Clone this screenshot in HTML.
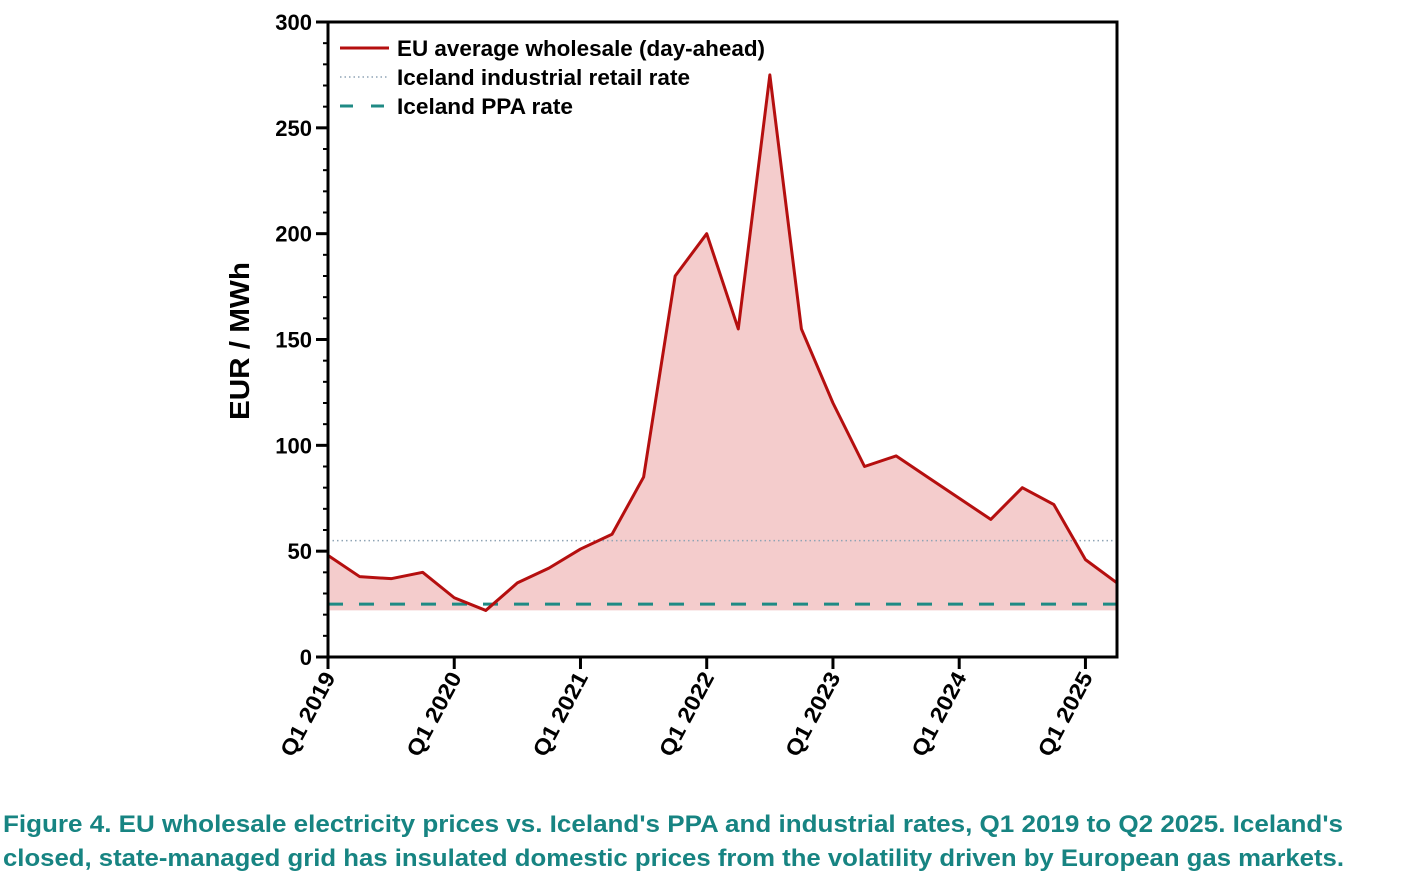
<!DOCTYPE html>
<html><head><meta charset="utf-8"><style>
body{margin:0;background:#fff;font-family:"Liberation Sans",Arial,sans-serif}
svg text{font-family:"Liberation Sans",Arial,sans-serif;font-weight:bold}
</style></head><body>
<svg id="c" width="1426" height="884" viewBox="0 0 1426 884"></svg>
<script>
const quarters=["Q1 2019","Q2 2019","Q3 2019","Q4 2019","Q1 2020","Q2 2020","Q3 2020","Q4 2020","Q1 2021","Q2 2021","Q3 2021","Q4 2021","Q1 2022","Q2 2022","Q3 2022","Q4 2022","Q1 2023","Q2 2023","Q3 2023","Q4 2023","Q1 2024","Q2 2024","Q3 2024","Q4 2024","Q1 2025","Q2 2025"];
const euPrices=[48,38,37,40,28,22,35,42,51,58,85,180,200,155,275,155,120,90,95,85,75,65,80,72,46,35];
const retailRate=[55];
const ppaRate=[25];
const yTicks=[0,50,100,150,200,250,300];
const xTickLabels=["Q1 2019","Q1 2020","Q1 2021","Q1 2022","Q1 2023","Q1 2024","Q1 2025"];

const NS="http://www.w3.org/2000/svg";
const svg=document.getElementById('c');
const X0=328,X1=1117,Y0=657,Y1=22;
const xs=i=>X0+(X1-X0)*i/(quarters.length-1);
const ys=v=>Y0-(Y0-Y1)*v/300;
function mk(t,a,p){const e=document.createElementNS(NS,t);for(const k in a)e.setAttribute(k,a[k]);(p||svg).appendChild(e);return e;}

const base=Math.min(ppaRate[0],Math.min(...euPrices));
let d=`M${xs(0)},${ys(base)} `+euPrices.map((v,i)=>`L${xs(i)},${ys(v)}`).join(' ')+` L${xs(euPrices.length-1)},${ys(base)} Z`;
const fill=mk('path',{d,fill:'#f4cccc',stroke:'none'});



const r=mk('line',{x1:X0,x2:X1,y1:ys(retailRate[0]),y2:ys(retailRate[0]),stroke:'#8fa4b5','stroke-width':1.5,'stroke-dasharray':'1.5 3'});


const p=mk('line',{x1:X0,x2:X1,y1:ys(ppaRate[0]),y2:ys(ppaRate[0]),stroke:'#1f8a84','stroke-width':3,'stroke-dasharray':'15 16'});



const ln=mk('polyline',{points:euPrices.map((v,i)=>`${xs(i)},${ys(v)}`).join(' '),fill:'none',stroke:'#b50f0f','stroke-width':3,'stroke-linejoin':'round'});



const fr=mk('rect',{x:X0,y:Y1,width:X1-X0,height:Y0-Y1,fill:'none',stroke:'#000','stroke-width':3});



for(let v=0;v<=300;v+=10){
  const major=v%50===0;
  const t=mk('line',{x1:X0-(major?12:5),x2:X0,y1:ys(v),y2:ys(v),stroke:'#000','stroke-width':major?3:2});
  
  
}
yTicks.forEach(v=>{
  const t=mk('text',{x:X0-16,y:ys(v)+8,'text-anchor':'end','font-size':22});
  t.textContent=v;
  
  
});
const yt=mk('text',{x:0,y:0,'font-size':28,'text-anchor':'middle',textLength:158,lengthAdjust:'spacingAndGlyphs',transform:`translate(249,341) rotate(-90)`});
yt.textContent='EUR / MWh';



xTickLabels.forEach(lbl=>{
  const i=quarters.indexOf(lbl);const x=xs(i);
  const t=mk('line',{x1:x,x2:x,y1:Y0,y2:Y0+12,stroke:'#000','stroke-width':3});
  
  
  const tx=mk('text',{x:0,y:0,'font-size':22,'text-anchor':'end',textLength:92,lengthAdjust:'spacingAndGlyphs',transform:`translate(${x+8},${Y0+20}) rotate(-62)`});
  tx.textContent=lbl;
  
  
});

const lg=mk('g',{});


const items=[["EU average wholesale (day-ahead)",{stroke:'#b50f0f','stroke-width':3},368],["Iceland industrial retail rate",{stroke:'#8fa4b5','stroke-width':1.5,'stroke-dasharray':'1.5 3'},293],["Iceland PPA rate",{stroke:'#1f8a84','stroke-width':3,'stroke-dasharray':'13 18'},176]];
items.forEach((it,k)=>{
  const y=48+k*29;
  const g=mk('g',{},lg);
  
  
  mk('line',Object.assign({x1:340,x2:389,y1:y,y2:y},it[1]),g);
  const t=mk('text',{x:397,y:y+8,'font-size':22,textLength:it[2],lengthAdjust:'spacingAndGlyphs'},g);
  t.textContent=it[0];
});

[['Figure 4. EU wholesale electricity prices vs. Iceland\'s PPA and industrial rates, Q1 2019 to Q2 2025. Iceland\'s',1340],['closed, state-managed grid has insulated domestic prices from the volatility driven by European gas markets.',1341]].forEach((s,k)=>{
  const t=mk('text',{x:3,y:832+k*34,'font-size':24,fill:'#178482',textLength:s[1],lengthAdjust:'spacingAndGlyphs'});
  t.textContent=s[0];
  
  
});
</script>
</body></html>
